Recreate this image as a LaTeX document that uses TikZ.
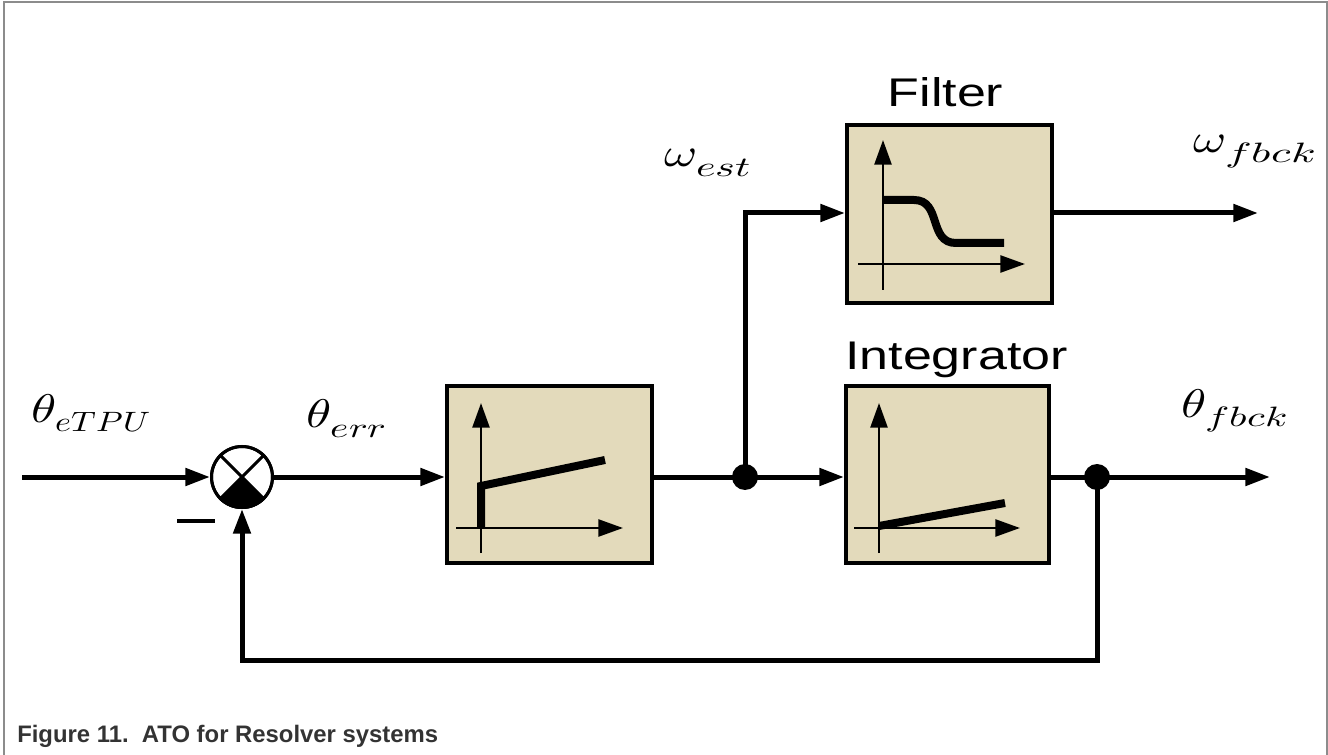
\documentclass[tikz,border=0pt]{standalone}
\usepackage{fontspec}
\setmainfont{Liberation Sans}
\usepackage{unicode-math}
\setmathfont{Latin Modern Math}
\usetikzlibrary{arrows.meta,calc}
\definecolor{boxfill}{RGB}{227,218,187}
\definecolor{framegray}{RGB}{140,140,140}
\definecolor{capgray}{RGB}{51,51,51}
\newcommand{\mlab}[3]{\scalebox{1.27}[1]{$#1$}\scalebox{#3}[1]{$_{#2}$}}
\tikzset{
  wire/.style={line width=3.75pt},
  arr/.style={wire,-{Triangle[length=18.5pt,width=12.75pt]}},
  axis/.style={line width=1.9pt,-{Triangle[length=18.5pt,width=12.75pt]}},
  curveln/.style={line width=6pt},
  blk/.style={draw,line width=3pt,fill=boxfill,inner sep=0pt},
  dotnode/.style={circle,fill=black,inner sep=0pt,minimum size=19.5pt},
  mlabel/.style={inner sep=0pt,anchor=base west,font=\fontsize{30}{36}\selectfont},
  title/.style={inner sep=0pt,anchor=base,font=\fontsize{30}{36}\selectfont}
}
\begin{document}
\begin{tikzpicture}[x=0.75pt,y=-0.75pt]
\useasboundingbox (0,0) rectangle (1328,755);
% frame
\draw[framegray,line width=1.5pt] (4,755) -- (4,2.5) -- (1326.5,2.5) -- (1326.5,755);

% blocks
\node[blk,minimum width=153.75pt,minimum height=132.75pt] (b1) at (549.5,474.5) {};
\node[blk,minimum width=152.25pt,minimum height=132.75pt] (integ) at (947.5,474.5) {};
\node[blk,minimum width=153.75pt,minimum height=133.5pt] (filt) at (949.5,214) {};

% summing junction
\node[circle,draw,fill=white,line width=2.25pt,minimum size=45.75pt,inner sep=0pt] (sum) at (242,477) {};
\fill (sum.center) -- (sum.south west) to[bend right=45] (sum.south east) -- cycle;
\draw[line width=2.25pt] (sum.north west) -- (sum.south east) (sum.north east) -- (sum.south west);
\draw[line width=2.25pt] (sum) circle[radius=30.5];
\node[inner sep=0pt] (minus) at (196,521) {\rule{28.5pt}{3pt}};

% dots
\node[dotnode] (d1) at (745,477) {};
\node[dotnode] (d2) at (1097,477) {};

% coordinates
\coordinate (in) at (22,477);
\coordinate (outw) at (1258,213);
\coordinate (outt) at (1270,477);
\coordinate (fb) at (1097,660);

% connectors
\draw[arr] (in) -- (sum.west);
\draw[arr] (sum.east) -- (sum.east -| b1.west);
\draw[wire] (d1 -| b1.east) -- (d1.center);
\draw[arr] (d1.center) -- (d1 -| integ.west);
\draw[arr] (d1.center) |- (outw -| filt.west);
\draw[arr] (outw -| filt.east) -- (outw);
\draw[wire] (d2 -| integ.east) -- (d2.center);
\draw[arr] (d2.center) -- (outt);
\draw[arr] (d2.center) -- (fb) -| (sum.south);

% block 1 graph
\draw[axis] (481,553) -- (481,403);
\draw[axis] (456,528) -- (623,528);
\draw[curveln,line join=miter] (481,528) -- (481,486) -- (605,460);
% integrator graph
\draw[axis] (879,553) -- (879,403);
\draw[axis] (854,528) -- (1020,528);
\draw[curveln] (879,526) -- (1005,503);
% filter graph
\draw[axis] (883,290) -- (883,140);
\draw[axis] (858,264) -- (1025,264);
\draw[curveln] (883,200) -- (914,200) .. controls (942,200) and (928,243) .. (956,243) -- (1004,243);

% titles
\node[title] (tfilt) at (945.5,107) {\scalebox{1.3}[1]{Filter}};
\node[title] (tinteg) at (956.5,370) {\scalebox{1.3}[1]{Integrator}};

% math labels
\node[mlabel] (lin) at (31,422) {\mlab{\theta}{eTPU}{1.22}};
\node[mlabel] (lerr) at (306,428) {\mlab{\theta}{err}{1.4}};
\node[mlabel] (lest) at (664,167) {\mlab{\omega}{est}{1.5}};
\node[mlabel] (lwf) at (1193,153) {\mlab{\omega}{fbck}{1.6}};
\node[mlabel] (ltf) at (1181,417) {\mlab{\theta}{fbck}{1.45}};

% caption
\node[inner sep=0pt,anchor=base west,font=\fontsize{17.9}{20}\selectfont\bfseries,text=capgray] (cap) at (17,742) {Figure 11.\ \ ATO for Resolver systems};
\end{tikzpicture}
\end{document}
